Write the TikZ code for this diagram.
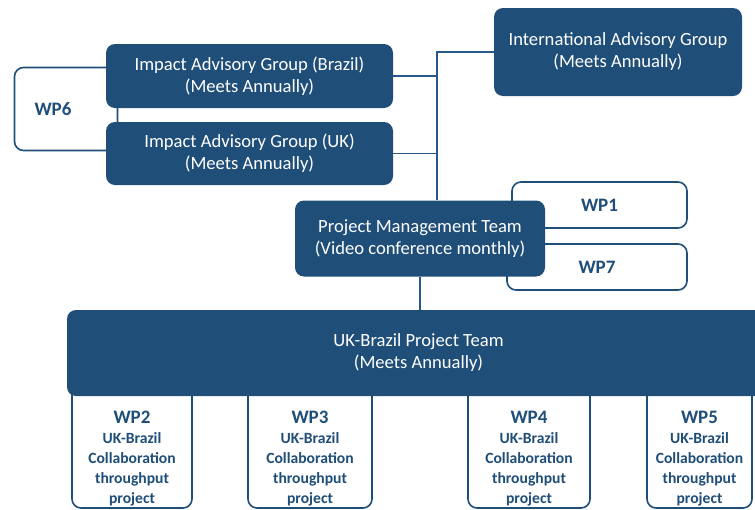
\documentclass[tikz,border=0pt]{standalone}
\usepackage{fontspec}
\setmainfont{Carlito}
\definecolor{navy}{HTML}{1F4E79}
\definecolor{linkblue}{HTML}{28588A}
\tikzset{
  groupbox/.style={draw=none, fill=navy, rounded corners=9pt, text=white,
    align=center, font=\fontsize{18.6}{22}\selectfont, inner sep=0pt},
  wpbox/.style={draw=navy, line width=1.6pt, fill=white, rounded corners=9pt,
    inner sep=0pt},
  wplabel/.style={text=navy, font=\bfseries\fontsize{19}{22}\selectfont},
  wptext/.style={text=navy, align=center, font=\bfseries\fontsize{15.6}{20}\selectfont},
  link/.style={draw=linkblue, line width=1.6pt},
}
\begin{document}
\begin{tikzpicture}[x=1pt, y=-1pt]
    \useasboundingbox (0,0) rectangle (755,509);
    \clip (0,0) rectangle (755,509);

    % WP6 sits behind the two impact groups
    \node[wpbox, minimum width=103pt, minimum height=83pt] (wp6) at (66,109) {};
    \node[wplabel] at ([xshift=-13pt]wp6.center) {WP6};

    \node[groupbox, minimum width=287pt, minimum height=64pt] (brazil) at (249.5,76)
        {Impact Advisory Group (Brazil)\\(Meets Annually)};
    \node[groupbox, minimum width=287pt, minimum height=63pt] (uk) at (249.5,153.5)
        {Impact Advisory Group (UK)\\(Meets Annually)};
    \node[groupbox, minimum width=248pt, minimum height=88pt] (intl) at (618,52)
        {International Advisory Group\\(Meets Annually)};

    % WP1 and WP7 hang off the management team
    \node[wpbox, minimum width=175pt, minimum height=46pt, wplabel] (wp1) at (599.5,205) {WP1};
    \node[wpbox, minimum width=180pt, minimum height=46pt, wplabel] (wp7) at (597,267) {WP7};

    \node[groupbox, minimum width=250pt, minimum height=76pt] (pmt) at (420,238.5)
        {Project Management Team\\(Video conference monthly)};

    % advisory links
    \draw[link] (intl.west) -- ++(-57,0) coordinate (spine) -- (spine |- pmt.north);
    \draw[link] (brazil.east) -- (brazil.east -| spine);
    \draw[link] (uk.east) -- (uk.east -| spine);

    % work packages under the project team
    \foreach \n/\x/\w in {2/132/120, 3/310/124, 4/529/122, 5/699.5/105} {
        \node[wpbox, minimum width=\w pt, minimum height=124pt] (wp\n) at (\x,446) {};
        \node[wptext] at ([yshift=-13pt]wp\n.center)
            {{\fontsize{19}{24}\selectfont WP\n}\\UK-Brazil\\Collaboration\\throughput\\project};
    }

    \node[groupbox, minimum width=703pt, minimum height=86pt] (team) at (418.5,353)
        {UK-Brazil Project Team\\(Meets Annually)};
    \draw[link] (pmt.south) -- (team.north -| pmt.south);
\end{tikzpicture}
\end{document}
